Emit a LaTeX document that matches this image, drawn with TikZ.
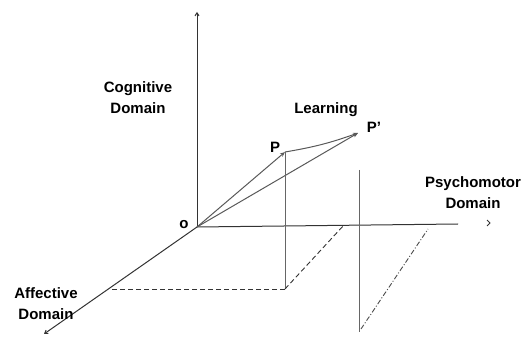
\documentclass[tikz,border=0pt]{standalone}
\usepackage{fontspec}
\setmainfont{Liberation Sans}
\usetikzlibrary{arrows.meta}
\begin{document}
\begin{tikzpicture}[x=1pt,y=-1pt,
  ax/.style={draw=black!80, line width=1pt},
  vec/.style={draw=black!65, line width=1pt, -{Stealth[length=5pt,width=4pt]}},
  axarrow/.style={-{Straight Barb[length=3pt,width=4pt]}},
  lbl/.style={font=\bfseries\fontsize{15}{21}\selectfont, align=center, inner sep=0pt},
  proj/.style={draw=black!80, line width=0.9pt, dash pattern=on 5pt off 3pt},
  projdd/.style={draw=black!70, line width=0.9pt, dash pattern=on 5pt off 2pt on 1pt off 2pt},
  vert/.style={draw=black!60, line width=1pt}]
\useasboundingbox (0,0) rectangle (522,344);
% points
\coordinate (O) at (197,227);
\coordinate (ctop) at (197,12);
\coordinate (hend) at (458,224);
\coordinate (aend) at (44,334);
\coordinate (P) at (285,152);
\coordinate (Pp) at (358,133);
\coordinate (Pfoot) at (285,289);
\coordinate (Aproj) at (110,289);
\coordinate (Hproj) at (344,225);
\coordinate (vtop) at (359,170);
\coordinate (vbot) at (359,332);
\coordinate (dda) at (361,329);
\coordinate (ddb) at (428,229);
\coordinate (chev) at (490,223);
% axes
\draw[ax, axarrow] (O) -- (ctop);
\draw[ax] (O) -- (hend);
\draw[ax, axarrow] (O) -- (aend);
\draw[black!80, line width=1pt] ([shift={(-3,-3)}]chev) -- (chev) -- ([shift={(-3,3)}]chev);
% vectors
\draw[vec] (O) -- (P);
\draw[vec] (O) -- (Pp);
\draw[vec] (P) to[bend right=5] (Pp);
% projections
\draw[vert] (P) -- (Pfoot);
\draw[proj] (Pfoot) -- (Aproj);
\draw[proj] (Pfoot) -- (Hproj);
\draw[vert] (vtop) -- (vbot);
\draw[projdd] (dda) -- (ddb);
% labels
\node[lbl] (cog) at (138,98) {Cognitive\\Domain};
\node[lbl] (learn) at (326,110) {Learning};
\node[lbl] (pplab) at (374,127) {P'};
\node[lbl] (plab) at (275,147) {P};
\node[lbl] (olab) at (184,225) {o};
\node[lbl] (psy) at (473,193) {Psychomotor\\Domain};
\node[lbl] (aff) at (46,304) {Affective\\Domain};
\end{tikzpicture}
\end{document}
